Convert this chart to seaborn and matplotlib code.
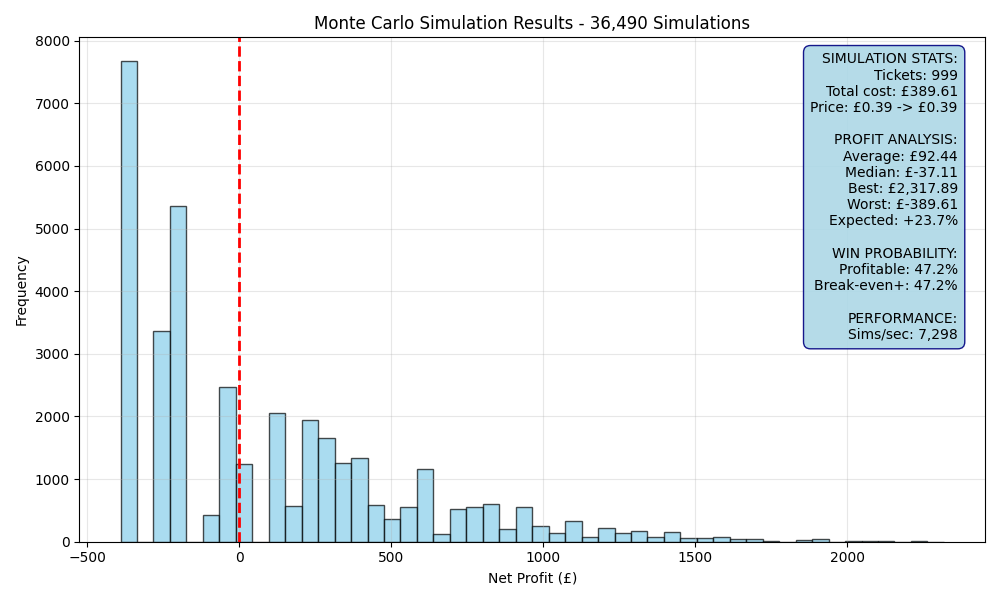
import numpy as np
import pandas as pd
import seaborn as sns
import matplotlib.pyplot as plt

# Summary values
n_sims = 36490
worst = -389.61
best = 2317.89
n_bins = 50

# Frequency per bin (50 equal-width bins from worst to best)
counts = [7671, 0, 3370, 5364, 0, 420, 2465, 1246, 0, 2060,
          575, 1949, 1661, 1262, 1342, 591, 367, 559, 1166, 128,
          527, 559, 607, 208, 559, 244, 144, 335, 80, 224,
          144, 176, 80, 160, 62, 55, 75, 43, 43, 16,
          0, 27, 43, 0, 16, 16, 16, 0, 16, 3]

stats_text = ("SIMULATION STATS:\n"
              "Tickets: 999\n"
              "Total cost: £389.61\n"
              "Price: £0.39 -> £0.39\n"
              "\n"
              "PROFIT ANALYSIS:\n"
              "Average: £92.44\n"
              "Median: £-37.11\n"
              "Best: £2,317.89\n"
              "Worst: £-389.61\n"
              "Expected: +23.7%\n"
              "\n"
              "WIN PROBABILITY:\n"
              "Profitable: 47.2%\n"
              "Break-even+: 47.2%\n"
              "\n"
              "PERFORMANCE:\n"
              "Sims/sec: 7,298")

edges = np.linspace(worst, best, n_bins + 1)
df = pd.DataFrame({'profit': (edges[:-1] + edges[1:]) / 2, 'count': counts})

fig, ax = plt.subplots(figsize=(10, 6), dpi=100)
sns.histplot(data=df, x='profit', weights='count', bins=list(edges),
             color='skyblue', alpha=0.7, edgecolor=(0, 0, 0, 0.7),
             linewidth=1, ax=ax)
ax.axvline(0, color='red', linestyle='--', linewidth=2)

ax.set_title(f'Monte Carlo Simulation Results - {n_sims:,} Simulations', fontsize=12)
ax.set_xlabel('Net Profit (£)')
ax.set_ylabel('Frequency')
ax.grid(True, alpha=0.3)

ax.text(0.97, 0.97, stats_text, transform=ax.transAxes, fontsize=10,
        va='top', ha='right', multialignment='right',
        bbox=dict(boxstyle='round,pad=0.5', facecolor='lightblue', alpha=0.9,
                  edgecolor='navy'))

plt.tight_layout()
plt.savefig('out.png')
